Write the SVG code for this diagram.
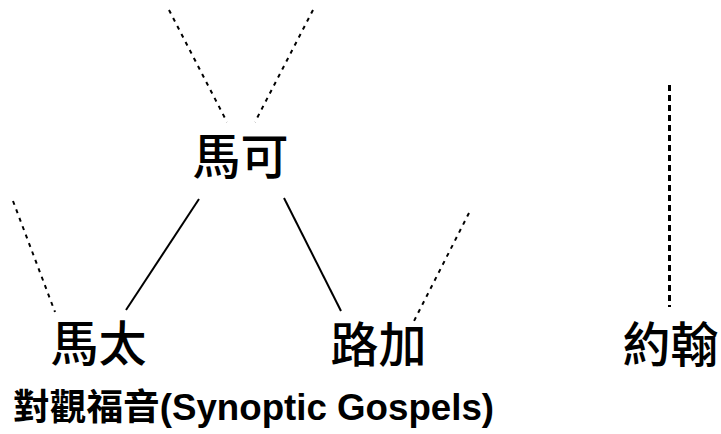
<svg xmlns="http://www.w3.org/2000/svg" width="721" height="434" viewBox="0 0 721 434">
<style>
.lbl{font-family:"Noto Sans CJK TC","Noto Sans CJK SC",sans-serif;font-size:48px;font-weight:500;fill:#000;text-anchor:middle}
.title{font-family:"Liberation Sans","Noto Sans CJK TC",sans-serif;font-size:36.7px;font-weight:bold;fill:#000}
.solid{stroke:#000;stroke-width:2;fill:none}
.dash{stroke:#000;stroke-width:2;fill:none;stroke-dasharray:4 5}
.vdash{stroke:#000;stroke-width:3;fill:none;stroke-dasharray:6 4}
</style>
<rect width="721" height="434" fill="#fff"/>
<g id="connectors">
<line class="dash" x1="169" y1="10" x2="227" y2="122"/>
<line class="dash" x1="313" y1="10" x2="255" y2="122"/>
<line class="dash" x1="13" y1="201" x2="55" y2="312"/>
<line class="solid" x1="199" y1="199" x2="126" y2="310"/>
<line class="solid" x1="284" y1="198" x2="341" y2="311"/>
<line class="dash" x1="469" y1="213" x2="413" y2="323"/>
<line class="vdash" x1="669.5" y1="85" x2="669.5" y2="307"/>
</g>
<g id="mark"><text class="lbl" x="240.5" y="174">馬可</text></g>
<g id="matthew"><text class="lbl" x="98.5" y="361">馬太</text></g>
<g id="luke"><text class="lbl" x="378.5" y="362">路加</text></g>
<g id="john"><text class="lbl" x="670.5" y="362">約翰</text></g>
<g id="title"><text class="title" x="13" y="420">對觀福音(Synoptic Gospels)</text></g>
</svg>
